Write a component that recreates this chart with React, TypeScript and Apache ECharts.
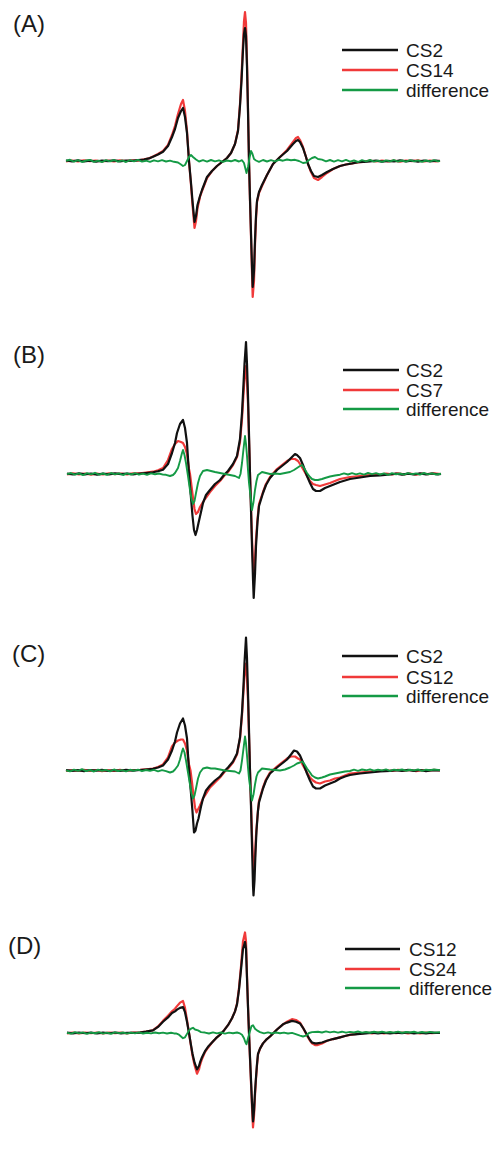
import React, { useEffect, useRef } from "react";
import * as echarts from "echarts";

// x: field position (px-like units), y: signal relative to baseline
const A_CS2: [number, number][] = [[66,0.5],[72,-0.3],[78,0.6],[84,-0.5],[90,0.3],[96,-0.6],[102,0.4],[108,-0.2],[114,0.6],[120,-0.4],[126,0.5],[132,0.2],[138,0.8],[144,1.5],[149,2.6],[153,4.3],[158,6.5],[163,9.3],[168,15],[172,24],[175,32],[178,43],[181,50],[183,53],[185,44],[187,28],[189,0],[191,-22],[192.5,-40],[194.5,-61],[196,-55],[197.5,-44],[200,-35],[202,-29],[207,-16],[212,-10],[217,-5],[222,-1],[227,3],[231,8],[235,17],[238,30],[240,55],[241.5,80],[243,111],[244,127],[245,133],[246,125],[247,94],[248,50],[249,0],[250,-38],[251,-72],[252,-105],[252.7,-126],[254,-110],[255,-79],[256,-55],[257,-40],[259,-31],[262,-24],[267,-14],[273,-3],[280,4],[287,10],[293,17],[296,20],[298,21],[300,19],[303,13],[306,4],[308,-3],[311,-10],[314,-15],[318,-16],[322,-14],[327,-11],[333,-8],[340,-5],[346,-3.5],[352,-2.5],[358,-1.2],[364,-1.0],[370,-0.3],[376,0.4],[382,-0.6],[388,0.2],[394,-0.5],[400,0.6],[406,-0.4],[412,0.3],[418,-0.6],[424,0.5],[430,-0.3],[436,0.4],[440,0]];
const A_CS14: [number, number][] = [[66,-0.3],[72,0.5],[78,-0.4],[84,0.6],[90,-0.2],[96,0.5],[102,-0.5],[108,0.4],[114,-0.3],[120,0.6],[126,-0.2],[132,0.6],[138,0.4],[144,1.6],[149,2.8],[153,4.5],[158,7],[163,10],[168,16],[172,26],[175,35],[178,47],[181,57],[183,61],[185,50],[187,30],[189,0],[191,-24],[192.5,-44],[194.5,-67],[196,-60],[197.5,-47],[200,-36],[202,-30],[207,-17],[212,-10],[217,-5],[222,-1],[227,3],[231,8],[235,17],[238,31],[240,57],[241.5,85],[243,118],[244,140],[245,149],[246,138],[247,100],[248,52],[249,0],[250,-40],[251,-76],[252,-112],[252.7,-136],[254,-120],[255,-84],[256,-58],[257,-41],[259,-32],[262,-25],[267,-14],[273,-3],[280,4],[287,11],[293,19],[296,23],[298,24],[300,21],[303,14],[306,4],[308,-3],[311,-11],[314,-17],[318,-19],[322,-16],[327,-12],[333,-8],[340,-5],[346,-3.5],[352,-2.3],[358,-1.5],[364,-0.6],[370,0.3],[376,-0.5],[382,0.5],[388,-0.4],[394,0.3],[400,-0.6],[406,0.5],[412,-0.2],[418,0.6],[424,-0.5],[430,0.4],[436,-0.3],[440,0.2]];
const A_DIFF: [number, number][] = [[66,0.3],[70,1.2],[74,-0.6],[78,0.8],[82,-1],[86,0.5],[90,1.1],[94,-0.8],[98,0.4],[102,-1.1],[106,0.9],[110,-0.3],[114,1.0],[118,-0.7],[122,0.6],[126,-1.0],[130,0.8],[134,-0.4],[138,1.1],[142,-0.6],[146,0.3],[150,-0.9],[154,0.7],[158,-0.3],[162,0.9],[166,-0.5],[170,0.4],[174,-0.8],[178,-1.5],[181,-3.5],[183,-5],[185,-4],[187,0],[189,4],[191,6],[193,4],[196,1.5],[199,-0.5],[203,0.8],[207,-0.6],[211,1.0],[215,-0.4],[219,0.7],[223,-0.8],[227,0.5],[231,-0.3],[235,1.0],[239,-0.5],[242,0.8],[244,-2],[245.5,-8],[246.5,-12],[248,-6],[249.5,3],[251,10],[252.5,7],[254,2],[256,0.5],[259,-0.8],[263,1.0],[267,-0.5],[271,0.8],[275,-0.3],[279,1.2],[283,0.3],[287,1.5],[291,0.8],[295,1.2],[299,0],[303,-2],[306,-1.5],[309,1],[312,3],[315,4],[318,2],[322,1.4],[326,-0.3],[330,1.0],[334,-0.6],[338,0.8],[342,-0.4],[346,1.1],[350,-0.7],[354,0.5],[358,-1.0],[362,0.8],[366,-0.3],[370,1.0],[374,-0.6],[378,0.4],[382,-0.9],[386,0.7],[390,-0.3],[394,1.0],[398,-0.7],[402,0.5],[406,-0.6],[410,0.9],[414,-0.4],[418,0.6],[422,-0.8],[426,0.5],[430,-0.4],[434,0.8],[438,-0.3],[440,0.2]];

const B_CS2: [number, number][] = [[67,0.4],[73,-0.5],[79,0.7],[85,-0.3],[91,0.5],[97,-0.6],[103,0.3],[109,-0.4],[115,0.6],[121,-0.2],[127,0.5],[133,-0.3],[140,0.5],[146,1],[153,1.7],[158,2.8],[163,4.3],[168,10],[172,21],[175,31],[177,41],[180,50],[183,54],[185,46],[187,31],[189,0],[191,-24],[192.5,-42],[194,-56],[195.5,-61],[197,-56],[198.5,-49],[201,-38],[203,-29],[206,-21],[210,-16],[215,-10],[220,-6],[224,-1],[228,3],[233,10],[237,18],[240,35],[242,61],[243.5,90],[244.5,110],[246,132],[247,110],[248,78],[249,40],[250,0],[251,-36],[252,-72],[253,-105],[253.7,-124],[255,-100],[256,-72],[257.5,-48],[259,-32],[263,-19],[266,-11],[270,-4],[277,4],[282,8],[287,12],[291,16],[295,20],[297,19],[300,16],[303,9],[307,-2],[310,-9],[313,-15],[316,-17],[320,-17],[325,-14],[330,-12],[335,-10],[340,-8],[350,-5],[360,-3.5],[370,-2],[380,-1.3],[390,-0.5],[396,0.3],[402,-0.6],[408,0.4],[414,-0.5],[420,0.6],[426,-0.3],[432,0.5],[438,-0.4],[441,0]];
const B_CS7: [number, number][] = [[67,-0.4],[73,0.6],[79,-0.3],[85,0.5],[91,-0.6],[97,0.4],[103,-0.5],[109,0.6],[115,-0.2],[121,0.5],[127,-0.4],[133,0.6],[140,0.7],[146,1.4],[153,2.3],[158,3.8],[163,6],[168,14],[172,25],[175,30],[178,33],[181,32],[183,31],[185,27],[187,20],[189,5],[190,0],[191.5,-12],[193,-24],[194.5,-35],[196,-40],[198,-38],[200,-33],[203,-28],[205,-25],[210,-18],[215,-12],[220,-7],[224,-2],[228,2],[233,9],[237,17],[240,32],[242,55],[243.5,80],[244.5,95],[246,108],[247,92],[248,70],[249,35],[250,0],[251,-32],[252,-65],[253,-88],[254,-100],[255,-86],[256,-65],[257.5,-45],[259,-30],[263,-18],[266,-10],[270,-3],[277,5],[282,9],[287,13],[291,15],[295,15],[298,13],[300,10],[303,5],[307,-2],[310,-7],[313,-10],[316,-11],[320,-12],[325,-10.5],[330,-9],[335,-7],[340,-5],[345,-4],[350,-3],[360,-2],[370,-1.2],[380,-0.5],[386,0.5],[392,-0.4],[398,0.6],[404,-0.3],[410,0.5],[416,-0.6],[422,0.4],[428,-0.2],[434,0.6],[441,0]];
const B_DIFF: [number, number][] = [[67,-0.2],[71,1.0],[75,-0.7],[79,0.6],[83,-1.1],[87,0.8],[91,-0.4],[95,1.2],[99,-0.6],[103,0.5],[107,-0.9],[111,1.0],[115,-0.3],[119,0.7],[123,-1.0],[127,0.6],[131,-0.5],[135,0.9],[139,-0.7],[143,0.4],[147,-0.8],[151,0.6],[155,-0.3],[159,0.5],[163,-0.6],[166,-0.8],[170,-2],[173,-1],[175,1],[178,6],[180,13],[182,21],[183,24],[184.5,19],[186,11],[188,-2],[190,-16],[191.5,-25],[193,-30],[194.5,-27],[196,-19],[198,-9],[200,-2],[203,3],[207,4],[211,3],[215,2],[220,1],[225,0],[230,-1],[235,-2],[239,-4],[240.5,0],[242,11],[243.5,25],[245,38],[246,30],[247,18],[248,4],[249,-9],[250.5,-22],[252,-36],[253.5,-28],[255,-16],[256.5,-7],[258,-1],[262,2],[266,1],[270,0],[275,0.5],[280,0],[285,1],[290,2],[294,4],[297,6],[300,8],[302,9],[304,6],[307,1],[310,-3],[312,-5],[315,-6],[318,-6],[322,-5],[325,-4],[330,-2.5],[335,-1.5],[340,-0.7],[344,0.6],[348,-0.5],[352,0.9],[356,-0.3],[360,0.7],[364,-0.6],[368,1.0],[372,-0.2],[376,0.8],[380,-0.5],[384,0.6],[388,-0.8],[392,0.9],[396,-0.3],[400,0.5],[404,-0.7],[408,0.8],[412,-0.2],[416,0.6],[420,-0.6],[424,1.0],[428,-0.4],[432,0.7],[436,-0.5],[441,0.3]];

const C_CS2: [number, number][] = [[66,0.5],[72,-0.4],[78,0.3],[84,-0.6],[90,0.5],[96,-0.2],[102,0.6],[108,-0.5],[114,0.3],[120,-0.4],[126,0.6],[133,-0.2],[140,0.5],[146,1],[153,1.7],[158,3],[163,5],[168,11],[172,20],[175,29],[177,38],[180,47],[183,52],[185,45],[187,32],[189,0],[191,-23],[192.5,-41],[194,-62],[195.5,-60],[197,-53],[198.5,-48],[201,-36],[203,-28],[206,-20],[210,-15],[215,-10],[220,-6],[224,-1],[228,3],[233,9],[237,17],[240,33],[242,58],[243.5,85],[244.5,108],[246,133],[247,112],[248,78],[249,40],[250,0],[251,-36],[252,-75],[253,-115],[253.5,-125],[254.5,-110],[255.5,-82],[256.5,-60],[258,-40],[259,-32],[263,-18],[266,-10],[270,-3],[277,3],[282,7],[287,11],[291,16],[294,20],[297,19],[300,15],[303,8],[307,-3],[310,-10],[313,-16],[316,-18],[320,-18],[325,-15],[330,-13],[335,-11],[340,-8],[345,-6],[350,-4.5],[360,-3],[370,-2],[380,-1],[390,-0.3],[396,0.4],[402,-0.5],[408,0.6],[414,-0.3],[420,0.5],[426,-0.6],[432,0.4],[440,0]];
const C_CS12: [number, number][] = [[66,-0.5],[72,0.4],[78,-0.3],[84,0.6],[90,-0.4],[96,0.5],[102,-0.6],[108,0.3],[114,-0.5],[120,0.6],[126,-0.3],[133,0.5],[140,0.6],[146,1.2],[153,2],[158,3.5],[163,6],[168,13],[172,24],[175,28],[178,30],[181,31],[183,31],[185,27],[187,20],[189,6],[190.5,0],[192,-12],[193.5,-25],[195,-37],[196.5,-42],[198,-39],[200,-35],[203,-28],[205,-25],[210,-17],[215,-12],[220,-7],[224,-2],[228,2],[233,8],[237,16],[240,32],[242,55],[243.5,80],[244.5,95],[246,107],[247,92],[248,70],[249,35],[250,0],[251,-32],[252,-65],[253,-90],[254,-101],[255,-86],[256,-65],[257.5,-45],[259,-30],[263,-17],[266,-9],[270,-2],[277,4],[282,8],[287,12],[291,14],[295,14],[298,12],[300,11],[303,5],[307,-2],[310,-7],[313,-10],[316,-12],[320,-13],[325,-11],[330,-10],[335,-8],[340,-7],[345,-5],[350,-3],[360,-2],[370,-1.2],[380,-0.5],[386,0.4],[392,-0.5],[398,0.6],[404,-0.2],[410,0.5],[416,-0.6],[422,0.3],[428,-0.4],[434,0.6],[440,0]];
const C_DIFF: [number, number][] = [[66,0.2],[70,-0.9],[74,0.8],[78,-0.4],[82,1.4],[86,-0.6],[90,0.5],[94,-1.0],[98,0.9],[102,-0.3],[106,0.6],[110,-0.8],[114,1.0],[118,-0.5],[122,0.4],[126,-0.9],[130,0.7],[134,-0.2],[138,0.8],[142,-0.7],[146,0.5],[150,-0.4],[154,0.6],[158,-0.8],[162,0.4],[166,-0.6],[170,-2],[173,-1],[175,1],[178,5],[180,11],[182,19],[183,22],[184.5,18],[186,10],[188,-2],[190,-14],[191.5,-23],[193,-28],[194.5,-25],[196,-18],[198,-8],[200,-2],[203,2],[207,3],[211,2],[215,2],[220,1],[225,0],[230,-0.5],[235,-1],[239,-3],[240.5,0],[242,10],[243.5,22],[245,34],[246,27],[247,15],[248,3],[249,-8],[250.5,-19],[252,-30],[253.5,-24],[255,-14],[256.5,-6],[258,-2],[262,2],[266,1.5],[270,1],[275,0.5],[280,0],[285,1],[290,3],[294,5],[297,7],[300,8],[302,9],[304,7],[307,2],[310,-2],[312,-5],[315,-7],[318,-8],[322,-7],[325,-6],[330,-4],[335,-3],[340,-2],[345,-1],[350,-0.5],[354,0.8],[358,-0.3],[362,1.0],[366,0.2],[370,1.2],[374,-0.2],[378,0.9],[382,0.1],[386,1.1],[390,-0.3],[394,0.8],[398,0.2],[402,1.0],[406,-0.2],[410,0.7],[414,0.1],[418,1.0],[422,-0.3],[426,0.8],[430,0.2],[434,1.0],[440,0.4]];

const D_CS12: [number, number][] = [[67,0.4],[73,-0.5],[79,0.6],[85,-0.3],[91,0.5],[97,-0.6],[103,0.4],[109,-0.3],[115,0.6],[121,-0.4],[127,0.3],[133,0.2],[140,0.5],[146,1.5],[153,3],[158,7],[163,13],[168,18],[172,23],[175,25],[177,27],[180,29],[183,30],[185,24],[187,13],[189,0],[191,-14],[192.5,-24],[194.5,-34],[197,-42],[199,-38],[200,-34],[202,-28],[205,-21],[208,-16],[212,-11],[216,-6],[220,-2],[224,3],[228,9],[232,17],[235,25],[237,33],[239,50],[241,73],[243,97],[245,105],[246,97],[247,63],[248,30],[249,0],[250,-28],[251,-54],[252,-80],[253,-102],[254,-90],[255,-68],[256,-51],[257,-36],[258,-24],[260,-18],[263,-12],[266,-8],[270,-4],[277,4],[283,10],[287,12],[292,14],[296,13],[300,11],[303,6],[307,-2],[310,-8],[312,-11],[315,-12],[317,-12],[322,-11],[327,-9],[333,-7],[340,-5],[345,-3.5],[350,-2],[355,-1.5],[360,-1],[366,-0.5],[372,0.4],[378,-0.5],[384,0.3],[390,-0.6],[396,0.5],[402,-0.3],[408,0.6],[414,-0.4],[420,0.3],[426,-0.5],[432,0.4],[440,0]];
const D_CS24: [number, number][] = [[67,-0.4],[73,0.5],[79,-0.6],[85,0.4],[91,-0.3],[97,0.6],[103,-0.5],[109,0.4],[115,-0.2],[121,0.5],[127,-0.4],[133,0.6],[140,0.7],[146,1.7],[153,3.2],[158,7.5],[163,14],[168,20],[172,25],[175,28],[177,31],[180,35],[183,37],[185,29],[187,15],[189,0],[191,-15],[192.5,-26],[194.5,-37],[197,-47],[199,-42],[200,-37],[202,-30],[205,-22],[208,-17],[212,-11],[216,-6],[220,-2],[224,3],[228,9],[232,17],[235,25],[237,34],[239,52],[241,77],[243,106],[245,116],[246,106],[247,66],[248,31],[249,0],[250,-30],[251,-58],[252,-86],[253,-109],[254,-96],[255,-72],[256,-53],[257,-37],[258,-25],[260,-18],[263,-12],[266,-8],[270,-4],[277,4],[283,10],[287,13],[292,16],[296,15],[300,12],[303,6],[307,-3],[310,-9],[312,-12],[315,-14],[317,-14],[322,-12],[327,-9],[333,-7],[340,-5],[345,-3.5],[350,-2.2],[355,-1.4],[360,-0.8],[366,0.4],[372,-0.5],[378,0.6],[384,-0.4],[390,0.5],[396,-0.3],[402,0.6],[408,-0.5],[414,0.4],[420,-0.6],[426,0.5],[432,-0.3],[440,0.3]];
const D_DIFF: [number, number][] = [[67,0.3],[71,-0.8],[75,1.0],[79,-0.4],[83,0.7],[87,-1.0],[91,0.5],[95,-0.3],[99,0.9],[103,-0.7],[107,0.4],[111,-0.9],[115,0.8],[119,-0.2],[123,0.6],[127,-0.8],[131,0.5],[135,-0.4],[139,0.7],[143,-0.6],[147,0.3],[151,-0.5],[155,0.6],[159,-0.3],[163,0.4],[167,-0.6],[171,0.3],[174,-0.5],[176,-0.5],[179,-2],[181,-4],[183,-6],[185,-5],[187,-1],[189,3],[191,5],[193,6],[195,4],[198,3],[201,1],[205,0.5],[209,-0.6],[213,0.7],[217,-0.4],[221,0.6],[225,-0.7],[229,0.4],[233,-0.3],[237,0.6],[240,-0.5],[242,-2],[244,-6],[245.5,-11],[246.5,-13],[248,-6],[250,2],[251.5,8],[253,9],[255,5],[257,3],[260,1],[264,-0.4],[268,0.7],[272,-0.5],[276,0.6],[280,-0.3],[284,0.5],[288,-0.6],[292,0.2],[295,-1],[300,-3],[303,-4],[306,-3],[309,0],[312,1],[318,1.5],[322,0.6],[326,1.8],[330,0.7],[334,1.6],[338,0.5],[342,1.5],[346,0.4],[350,1.3],[354,0.6],[358,1.7],[362,0.5],[366,1.2],[370,0.3],[374,1.4],[378,0.6],[382,1.5],[386,0.4],[390,1.2],[394,0.5],[398,1.6],[402,0.3],[406,1.1],[410,0.6],[414,1.4],[418,0.2],[422,1.2],[426,0.5],[430,1.3],[434,0.4],[440,0.8]];

const PANEL_LABELS = ["(A)", "(B)", "(C)", "(D)"];
const LEGEND_NAMES = [
  ["CS2", "CS14", "difference"],
  ["CS2", "CS7", "difference"],
  ["CS2", "CS12", "difference"],
  ["CS12", "CS24", "difference"],
];
const PANEL_DATA = [
  [A_CS2, A_CS14, A_DIFF],
  [B_CS2, B_CS7, B_DIFF],
  [C_CS2, C_CS12, C_DIFF],
  [D_CS12, D_CS24, D_DIFF],
];

// layout (pixels)
const BASELINES = [161, 474, 770.5, 1053];
const LABEL_POS = [[13, 25], [13, 356], [12, 655], [8, 947]];
const LEGEND_ROWS = [[50, 70, 90], [370, 390, 409], [656, 677, 696], [949, 969, 988]];
const LEGEND_X = [[342, 398, 406], [343, 399, 406], [342, 398, 406], [345, 400, 409]];
const COLORS = ["#111111", "#f03a3a", "#149a45"];

export default function App() {
  const ref = useRef<HTMLDivElement>(null);
  useEffect(() => {
    if (!ref.current) return;
    const chart = echarts.init(ref.current, null, { renderer: "svg" });
    const grids: any[] = [];
    const xAxes: any[] = [];
    const yAxes: any[] = [];
    const series: any[] = [];
    const graphic: any[] = [];
    const font = "'Liberation Sans', Arial, sans-serif";
    for (let p = 0; p < 4; p++) {
      grids.push({ left: 66, width: 374, top: BASELINES[p] - 150, height: 300 });
      xAxes.push({ type: "value", gridIndex: p, min: 66, max: 440, show: false });
      yAxes.push({ type: "value", gridIndex: p, min: -150, max: 150, show: false });
      // draw order: red, black, green
      const order = [1, 0, 2];
      order.forEach((s) => {
        series.push({
          type: "line",
          name: LEGEND_NAMES[p][s],
          xAxisIndex: p,
          yAxisIndex: p,
          data: PANEL_DATA[p][s],
          showSymbol: false,
          symbol: "none",
          clip: false,
          silent: true,
          lineStyle: { color: COLORS[s], width: s === 2 ? 1.9 : 2.2, join: "round" },
          z: 2 + order.indexOf(s),
        });
      });
      graphic.push({
        type: "text",
        left: LABEL_POS[p][0],
        top: LABEL_POS[p][1] - 14,
        style: { text: PANEL_LABELS[p], font: `24px ${font}`, fill: "#1a1a1a" },
      });
      for (let s = 0; s < 3; s++) {
        const y = LEGEND_ROWS[p][s];
        graphic.push({
          type: "line",
          shape: { x1: LEGEND_X[p][0], y1: y, x2: LEGEND_X[p][1], y2: y },
          style: { stroke: COLORS[s], lineWidth: 2.4 },
        });
        graphic.push({
          type: "text",
          x: LEGEND_X[p][2],
          y: y,
          style: {
            text: LEGEND_NAMES[p][s],
            font: `19px ${font}`,
            fill: "#1a1a1a",
            verticalAlign: "middle",
            align: "left",
          },
        });
      }
    }
    chart.setOption({
      animation: false,
      backgroundColor: "#ffffff",
      grid: grids,
      xAxis: xAxes,
      yAxis: yAxes,
      series,
      graphic,
    });
    return () => chart.dispose();
  }, []);
  return (
    <div
      ref={ref}
      style={{ position: "absolute", left: 0, top: 0, width: 497, height: 1163 }}
    />
  );
}
